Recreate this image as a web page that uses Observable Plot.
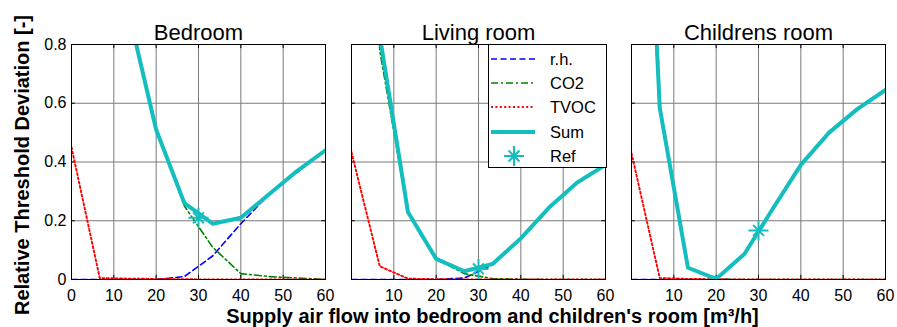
<!DOCTYPE html>
<html><head><meta charset="utf-8">
<script src="https://cdn.jsdelivr.net/npm/d3@7"></script>
<script src="https://cdn.jsdelivr.net/npm/@observablehq/plot@0.6"></script>
<style>
body{margin:0;background:#fff;font-family:"Liberation Sans",Arial,sans-serif;}
#wrap{position:relative;width:897px;height:327px;overflow:hidden;background:#fff;}
#wrap svg{position:absolute;left:0;top:0;}
.lab{position:absolute;font-weight:bold;font-size:20px;line-height:20px;white-space:nowrap;color:#000;text-align:center;}
#legend{position:absolute;left:488px;top:44px;width:117px;height:122px;border:1px solid #000;background:#fff;}
.row{position:absolute;left:0;height:24px;width:117px;}
.row svg{position:absolute;left:8px;top:0;}
.row span{position:absolute;left:61px;top:3px;font-size:16.5px;line-height:18px;color:#000;}
</style></head><body>
<div id="wrap"></div>
<script>
const rooms = ["Bedroom", "Living room", "Childrens room"];
const flows = [0, 6.67, 13.33, 20, 26.67, 33.33, 40, 46.67, 53.33, 60];
const seriesNames = ["r.h.", "CO2", "TVOC", "Sum"];

const bedroomRH   = [0, 0, 0, 0, 0.01, 0.08, 0.19, 0.29, 0.365, 0.44];
const bedroomCO2  = [2.0, 1.3, 0.92, 0.51, 0.25, 0.11, 0.02, 0.01, 0.005, 0];
const bedroomTVOC = [0.45, 0.005, 0.003, 0.002, 0.001, 0, 0, 0, 0, 0];
const bedroomSum  = [2.45, 1.3, 0.92, 0.51, 0.26, 0.19, 0.21, 0.29, 0.37, 0.44];

const livingRH   = [0, 0, 0, 0, 0.005, 0.05, 0.14, 0.245, 0.33, 0.39];
const livingCO2  = [3.0, 0.78, 0.227, 0.07, 0.02, 0.003, 0.001, 0, 0, 0];
const livingTVOC = [0.433, 0.045, 0.003, 0.001, 0, 0, 0, 0, 0, 0];
const livingSum  = [3.43, 0.83, 0.23, 0.07, 0.028, 0.053, 0.14, 0.245, 0.33, 0.39];

const childrenRH   = [0, 0, 0, 0, 0.087, 0.24, 0.39, 0.5, 0.58, 0.645];
const childrenCO2  = [2.2, 0.58, 0.04, 0.001, 0, 0, 0, 0, 0, 0];
const childrenTVOC = [0.43, 0.005, 0.002, 0.001, 0, 0, 0, 0, 0, 0];
const childrenSum  = [2.63, 0.585, 0.04, 0.002, 0.087, 0.24, 0.39, 0.5, 0.58, 0.645];

const refFlow = 30;
const refValues = [0.21, 0.036, 0.167];

const xTicks = [0, 10, 20, 30, 40, 50, 60];
const yTicks = [0, 0.2, 0.4, 0.6, 0.8];

const roomSeries = [
  [bedroomRH, bedroomCO2, bedroomTVOC, bedroomSum],
  [livingRH, livingCO2, livingTVOC, livingSum],
  [childrenRH, childrenCO2, childrenTVOC, childrenSum]
];

const rows = [];
rooms.forEach((room, i) => {
  seriesNames.forEach((s, k) => {
    flows.forEach((f, j) => rows.push({room, series: s, flow: f, value: roomSeries[i][k][j]}));
  });
});
const refRows = rooms.map((room, i) => ({room, flow: refFlow, value: refValues[i]}));

const CYAN = "#14bebe";
const styles = {
  "r.h.": {stroke: "#0000ff", strokeWidth: 1.6, strokeDasharray: "6,3.5"},
  "CO2":  {stroke: "#008000", strokeWidth: 1.6, strokeDasharray: "7,3,2,3"},
  "TVOC": {stroke: "#ff0000", strokeWidth: 1.9, strokeDasharray: "2,2.4"},
  "Sum":  {stroke: CYAN, strokeWidth: 4}
};

const lineMarks = seriesNames.map(s => Plot.line(rows.filter(d => d.series === s), {
  x: "flow", y: "value", fx: "room", clip: true, strokeLinejoin: "round", ...styles[s]
}));

const chart = Plot.plot({
  width: 897, height: 327,
  marginLeft: 70, marginRight: 10, marginTop: 44, marginBottom: 48,
  style: {fontFamily: '"Liberation Sans", Arial, sans-serif', fontSize: "16px", color: "black", background: "white", overflow: "visible"},
  fx: {domain: rooms, paddingInner: 0.0925, paddingOuter: 0, label: null},
  x: {domain: [0, 60]},
  y: {domain: [0, 0.8]},
  marks: [
    Plot.gridX(xTicks, {stroke: "#7a7a7a", strokeOpacity: 1, strokeWidth: 1}),
    Plot.gridY(yTicks, {stroke: "#7a7a7a", strokeOpacity: 1, strokeWidth: 1}),
    Plot.ruleX(xTicks, {x: d => d, y1: 0, y2: 0.014, stroke: "black"}),
    Plot.ruleX(xTicks, {x: d => d, y1: 0.786, y2: 0.8, stroke: "black"}),
    Plot.ruleY(yTicks, {y: d => d, x1: 0, x2: 0.9, stroke: "black"}),
    Plot.ruleY(yTicks, {y: d => d, x1: 59.1, x2: 60, stroke: "black"}),
    ...lineMarks,
    Plot.dot(refRows, {x: "flow", y: "value", fx: "room", symbol: "plus", r: 6.5, stroke: CYAN, strokeWidth: 2}),
    Plot.dot(refRows, {x: "flow", y: "value", fx: "room", symbol: "times", r: 5, stroke: CYAN, strokeWidth: 2}),
    Plot.frame({stroke: "black", strokeWidth: 1}),
    Plot.axisX(xTicks.slice(0, 1), {tickSize: 0, tickPadding: 10, facetAnchor: "left", label: null, fontSize: 16}),
    Plot.axisX(xTicks.slice(1), {tickSize: 0, tickPadding: 10, label: null, fontSize: 16}),
    Plot.axisY(yTicks, {tickSize: 0, tickPadding: 5, label: null, fontSize: 16, tickFormat: d => d === 0 ? "0" : d.toFixed(1)}),
    Plot.axisFx({anchor: "top", tickSize: 0, tickPadding: 5, label: null, fontSize: 22})
  ]
});

const wrap = document.getElementById("wrap");
wrap.appendChild(chart);

// axis titles
const xl = document.createElement("div");
xl.className = "lab";
xl.textContent = "Supply air flow into bedroom and children's room [m³/h]";
xl.style.left = "0px"; xl.style.width = "985px"; xl.style.top = "306px";
wrap.appendChild(xl);

const yl = document.createElement("div");
yl.className = "lab";
yl.textContent = "Relative Threshold Deviation [-]";
yl.style.width = "340px"; yl.style.left = (21.5 - 170) + "px"; yl.style.top = (165 - 10) + "px";
yl.style.transform = "rotate(-90deg)";
wrap.appendChild(yl);

// legend
const legend = document.createElement("div");
legend.id = "legend";
const legendItems = [...seriesNames, "Ref"];
legendItems.forEach((name, i) => {
  const row = document.createElement("div");
  row.className = "row";
  row.style.top = (2 + i * 24.2) + "px";
  const svg = d3.create("svg").attr("width", 48).attr("height", 24);
  if (name === "Ref") {
    const g = svg.append("g").attr("transform", "translate(25,12)").attr("stroke", CYAN).attr("stroke-width", 2);
    g.append("path").attr("d", d3.symbol(d3.symbolPlus, Math.PI * 6.5 * 6.5)());
    g.append("path").attr("d", d3.symbol(d3.symbolTimes, Math.PI * 5 * 5)());
  } else {
    const st = styles[name];
    svg.append("line").attr("x1", 2).attr("x2", 46).attr("y1", 12).attr("y2", 12)
      .attr("stroke", st.stroke).attr("stroke-width", st.strokeWidth)
      .attr("stroke-dasharray", st.strokeDasharray || null);
  }
  row.appendChild(svg.node());
  const sp = document.createElement("span");
  sp.textContent = name;
  row.appendChild(sp);
  legend.appendChild(row);
});
wrap.appendChild(legend);
</script>
</body></html>
